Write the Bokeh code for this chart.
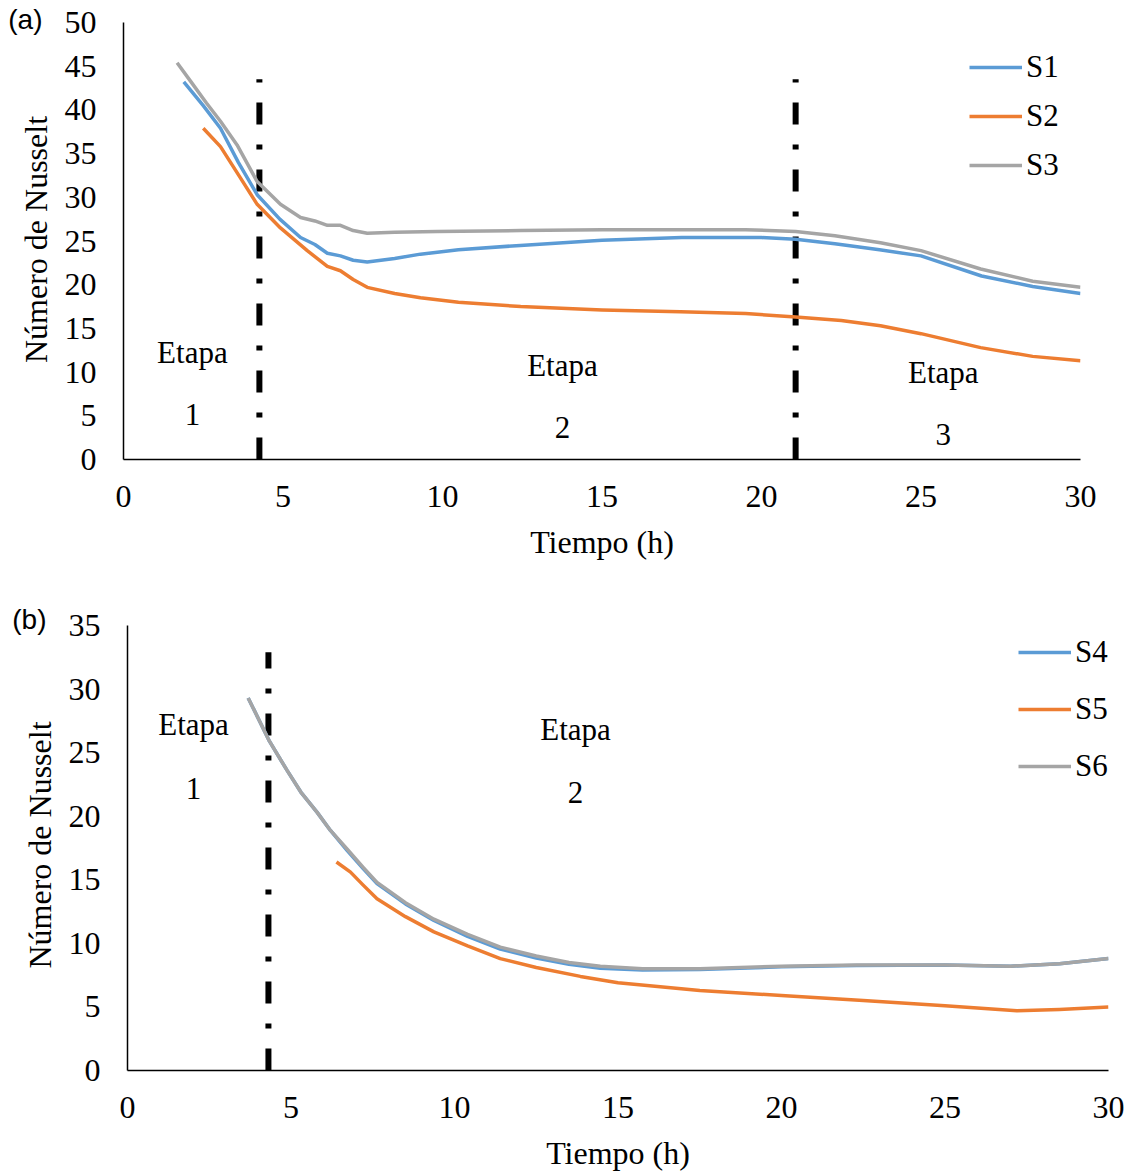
from bokeh.plotting import figure
from bokeh.models import Range1d, Legend, LegendItem, FixedTicker, LinearAxis
from bokeh.embed import file_html
from bokeh.resources import INLINE
from bokeh.core.properties import value

# ---------------- data: panel (a) ----------------
t_s1 = [1.89, 2.5, 3.04, 3.6, 4.19, 4.9, 5.55, 6.0, 6.39, 6.8, 7.2, 7.64, 8.5, 9.31, 10.5, 12.44, 15.0, 17.5, 20.0, 21.07, 22.3, 23.7, 25.0, 26.9, 28.5, 30.0]
nu_s1 = [43.2, 40.5, 37.9, 34.0, 30.3, 27.5, 25.4, 24.6, 23.6, 23.3, 22.8, 22.6, 23.0, 23.5, 24.0, 24.5, 25.1, 25.4, 25.4, 25.2, 24.7, 24.0, 23.3, 21.0, 19.8, 19.0]

t_s2 = [2.5, 3.04, 3.6, 4.19, 4.92, 5.76, 6.39, 6.8, 7.2, 7.64, 8.5, 9.31, 10.5, 12.45, 15.0, 17.46, 19.5, 21.07, 22.5, 23.73, 25.0, 26.87, 28.5, 30.0]
nu_s2 = [37.9, 35.8, 32.6, 29.2, 26.5, 23.9, 22.1, 21.6, 20.6, 19.7, 19.0, 18.5, 18.0, 17.5, 17.1, 16.9, 16.7, 16.3, 15.9, 15.3, 14.4, 12.8, 11.8, 11.3]

t_s3 = [1.68, 2.1, 2.6, 3.04, 3.56, 4.19, 4.92, 5.55, 6.0, 6.39, 6.8, 7.2, 7.64, 8.5, 9.83, 12.45, 15.0, 17.5, 19.5, 21.07, 22.3, 23.73, 25.0, 26.87, 28.5, 30.0]
nu_s3 = [45.4, 43.3, 40.8, 38.7, 36.0, 31.8, 29.2, 27.7, 27.3, 26.8, 26.8, 26.2, 25.9, 26.0, 26.1, 26.2, 26.3, 26.3, 26.3, 26.1, 25.6, 24.8, 23.9, 21.8, 20.4, 19.7]

bounds_a = [4.26, 21.07]
bound_top_a = 43.5
etapa_x_a = [2.16, 13.76, 25.7]
etapa_y_a = [12.2, 10.7, 9.9]
num_y_a = [5.1, 3.65, 2.85]
nums_a = ["1", "2", "3"]
y_max_a = 50
tag_y_a = 50.35

# ---------------- data: panel (b) ----------------
t_s4 = [3.69, 4.34, 4.88, 5.3, 5.8, 6.2, 6.72, 7.2, 7.63, 8.5, 9.37, 10.4, 11.4, 12.5, 13.5, 14.46, 15.75, 17.5, 20.0, 22.3, 25.0, 27.0, 28.5, 30.0]
nu_s4 = [29.3, 25.9, 23.6, 21.9, 20.3, 18.9, 17.3, 15.9, 14.7, 13.1, 11.8, 10.55, 9.55, 8.85, 8.35, 8.05, 7.9, 7.95, 8.15, 8.25, 8.3, 8.2, 8.4, 8.8]

t_s5 = [6.39, 6.82, 7.2, 7.63, 8.5, 9.37, 10.4, 11.4, 12.5, 13.85, 15.0, 17.5, 20.0, 22.5, 25.0, 27.2, 28.5, 30.0]
nu_s5 = [16.4, 15.6, 14.6, 13.5, 12.1, 10.9, 9.8, 8.8, 8.1, 7.4, 6.9, 6.3, 5.9, 5.5, 5.1, 4.7, 4.8, 5.0]

t_s6 = [3.69, 4.34, 4.88, 5.3, 5.8, 6.2, 6.72, 7.2, 7.63, 8.5, 9.37, 10.4, 11.4, 12.5, 13.5, 14.46, 15.75, 17.5, 20.0, 22.3, 25.0, 27.0, 28.5, 30.0]
nu_s6 = [29.3, 25.9, 23.6, 21.9, 20.3, 18.9, 17.4, 16.0, 14.8, 13.2, 11.9, 10.7, 9.7, 9.0, 8.5, 8.2, 8.0, 8.0, 8.2, 8.3, 8.3, 8.2, 8.4, 8.8]

bounds_b = [4.31]
bound_top_b = 32.9
etapa_x_b = [2.02, 13.7]
etapa_y_b = [27.2, 26.8]
num_y_b = [22.2, 21.9]
nums_b = ["1", "2"]
y_max_b = 35
tag_y_b = 35.47

x_ticks = [0, 5, 10, 15, 20, 25, 30]
y_ticks_a = [0, 5, 10, 15, 20, 25, 30, 35, 40, 45, 50]
y_ticks_b = [0, 5, 10, 15, 20, 25, 30, 35]

BLUE = "#5B9BD5"
ORANGE = "#ED7D31"
GRAY = "#A5A5A5"
SERIF = "Liberation Serif"
FS_TICK = "32px"
FS_LAB = "32px"
FS_TXT = "31px"
LW = 3.5


def make_fig(height, ymax, ytop, yticks, left, right, top, bottom, panel_tag):
    p = figure(width=1129, height=height, output_backend="svg", toolbar_location=None,
               x_range=Range1d(0, 30), y_range=Range1d(0, ytop))
    p.min_border_left = left
    p.min_border_right = right
    p.min_border_top = top
    p.min_border_bottom = bottom
    p.outline_line_color = None
    p.grid.visible = False
    p.background_fill_color = "white"
    p.border_fill_color = "white"
    for ax in (p.xaxis[0], p.yaxis[0]):
        ax.axis_line_color = "black"
        ax.axis_line_width = 1.5
        ax.major_tick_line_color = None
        ax.minor_tick_line_color = None
        ax.major_tick_out = 0
        ax.major_tick_in = 0
        ax.minor_tick_out = 0
        ax.minor_tick_in = 0
        ax.major_label_text_font = SERIF
        ax.major_label_text_font_size = FS_TICK
        ax.major_label_text_color = "black"
        ax.axis_label_text_font = SERIF
        ax.axis_label_text_font_size = FS_LAB
        ax.axis_label_text_font_style = "normal"
        ax.axis_label_text_color = "black"
    p.xaxis[0].ticker = FixedTicker(ticks=x_ticks)
    p.yaxis[0].ticker = FixedTicker(ticks=yticks)
    p.yaxis[0].bounds = (0, ymax)
    p.xaxis[0].axis_label = "Tiempo (h)"
    p.yaxis[0].axis_label = "Número de Nusselt"
    p.xaxis[0].major_label_standoff = 26
    p.yaxis[0].major_label_standoff = 27
    p.xaxis[0].axis_label_standoff = 14
    p.yaxis[0].axis_label_standoff = 8
    # panel tag "(a)"/"(b)" shown as the single label of an outer, line-less axis
    tag_axis = LinearAxis(ticker=FixedTicker(ticks=[ytop]), major_label_overrides={ytop: panel_tag},
                          axis_line_color=None, major_tick_line_color=None, minor_tick_line_color=None,
                          major_tick_out=0, major_tick_in=0, minor_tick_out=0, minor_tick_in=0,
                          major_label_standoff=-28, major_label_text_font="Liberation Sans",
                          major_label_text_font_size="28px", major_label_text_color="black")
    p.add_layout(tag_axis, "left")
    return p


def stage_texts(p, xs, ys_word, ys_num, nums):
    p.text(x=xs, y=ys_word, text=["Etapa"] * len(xs), text_font=value(SERIF),
           text_font_size=FS_TXT, text_align="center", text_baseline="middle", text_color="black")
    p.text(x=xs, y=ys_num, text=nums, text_font=value(SERIF),
           text_font_size=FS_TXT, text_align="center", text_baseline="middle", text_color="black")


def add_legend(p, renderers, labels, loc, spacing):
    leg = Legend(items=[LegendItem(label=l, renderers=[r]) for l, r in zip(labels, renderers)],
                 location=loc, padding=0, margin=0, spacing=spacing,
                 glyph_width=53, glyph_height=36, label_height=36, label_standoff=4,
                 label_text_font=SERIF, label_text_font_size=FS_TXT, label_text_color="black",
                 background_fill_alpha=0, border_line_color=None)
    p.add_layout(leg)


# ---------------- panel (a) ----------------
pa = make_fig(590, y_max_a, tag_y_a, y_ticks_a, 123, 49, 19, 131, "(a)")
for bx in bounds_a:
    pa.line([bx, bx], [0, bound_top_a], line_color="black", line_width=6, line_dash="22 20 5 20")
r1 = pa.line(t_s1, nu_s1, line_color=BLUE, line_width=LW, line_join="round")
r2 = pa.line(t_s2, nu_s2, line_color=ORANGE, line_width=LW, line_join="round")
r3 = pa.line(t_s3, nu_s3, line_color=GRAY, line_width=LW, line_join="round")
stage_texts(pa, etapa_x_a, etapa_y_a, num_y_a, nums_a)
add_legend(pa, [r1, r2, r3], ["S1", "S2", "S3"], (846, 276), 13)

# ---------------- panel (b) ----------------
pb = make_fig(583, y_max_b, tag_y_b, y_ticks_b, 127, 21, 29, 101, "(b)")
for bx in bounds_b:
    pb.line([bx, bx], [0, bound_top_b], line_color="black", line_width=6, line_dash="22 20 5 20")
r4 = pb.line(t_s4, nu_s4, line_color=BLUE, line_width=LW, line_join="round")
r5 = pb.line(t_s5, nu_s5, line_color=ORANGE, line_width=LW, line_join="round")
r6 = pb.line(t_s6, nu_s6, line_color=GRAY, line_width=LW, line_join="round")
stage_texts(pb, etapa_x_b, etapa_y_b, num_y_b, nums_b)
add_legend(pb, [r4, r5, r6], ["S4", "S5", "S6"], (891, 286), 21)

open("out.html", "w").write(file_html([pa, pb], INLINE))
